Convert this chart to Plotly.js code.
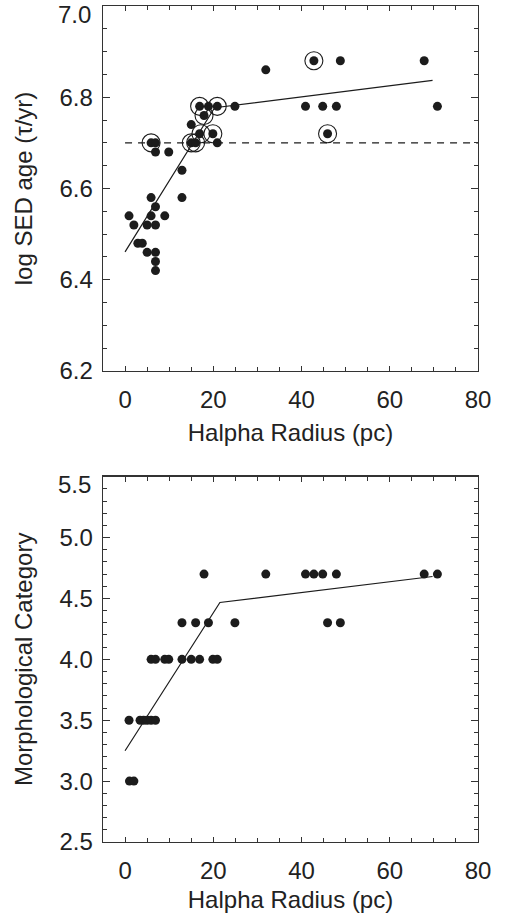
<!DOCTYPE html>
<html>
<head>
<meta charset="utf-8">
<script src="https://cdn.plot.ly/plotly-3.0.1.min.js"></script>
<style>html,body{margin:0;padding:0;background:#fff;}#chart{width:507px;height:913px;}</style>
</head>
<body>
<div id="chart"></div>
<script>
// ---- Top panel: log SED age vs Halpha radius ----
var ageX = [0.9, 2.0, 2.9, 3.9, 5.0, 5.0, 5.9, 5.9, 6.9, 6.9, 6.9, 6.9, 6.9, 9.0, 5.9, 6.9, 6.9, 9.9, 12.9, 12.9, 15.0, 15.0, 16.0, 16.9, 16.9, 17.9, 18.9, 19.9, 20.9, 20.9, 24.9, 31.9, 40.9, 42.8, 44.8, 45.9, 47.9, 48.8, 67.8, 70.8];
var ageY = [6.54, 6.52, 6.48, 6.48, 6.52, 6.46, 6.58, 6.54, 6.56, 6.52, 6.46, 6.44, 6.42, 6.54, 6.70, 6.70, 6.68, 6.68, 6.64, 6.58, 6.74, 6.70, 6.70, 6.78, 6.72, 6.76, 6.78, 6.72, 6.78, 6.70, 6.78, 6.86, 6.78, 6.88, 6.78, 6.72, 6.78, 6.88, 6.88, 6.78];
var circX = [5.9, 15.0, 16.0, 16.9, 17.9, 20.9, 17.2, 19.9, 42.8, 45.9];
var circY = [6.70, 6.70, 6.70, 6.78, 6.76, 6.78, 6.72, 6.72, 6.88, 6.72];
var ageFitX = [0.0, 20.3, 69.7];
var ageFitY = [6.461, 6.777, 6.837];
var refX = [0, 80];
var refY = [6.70, 6.70];
var ageTicks = [6.2, 6.4, 6.6, 6.8, 7.0];

// ---- Bottom panel: morphological category vs Halpha radius ----
var morphX = [1.0, 2.0,
              0.9, 3.4, 4.2, 5.0, 5.9, 6.9,
              5.9, 6.9, 9.0, 9.9, 12.9, 15.0, 16.9, 19.9, 20.9,
              12.9, 16.0, 18.9, 24.9, 45.9, 48.8,
              17.9, 31.9, 40.9, 42.8, 44.8, 47.9, 67.8, 70.8];
var morphY = [3.0, 3.0,
              3.5, 3.5, 3.5, 3.5, 3.5, 3.5,
              4.0, 4.0, 4.0, 4.0, 4.0, 4.0, 4.0, 4.0, 4.0,
              4.3, 4.3, 4.3, 4.3, 4.3, 4.3,
              4.7, 4.7, 4.7, 4.7, 4.7, 4.7, 4.7, 4.7];
var morphFitX = [0.0, 21.5, 69.7];
var morphFitY = [3.249, 4.467, 4.680];
var morphTicks = [2.5, 3.0, 3.5, 4.0, 4.5, 5.0, 5.5];

var xTickVals = [0, 20, 40, 60, 80];
var xTitle = 'Halpha Radius (pc)';
var yTitleTop = 'log SED age (τ/yr)';
var yTitleBottom = 'Morphological Category';

var ink = '#1c1c1c';
var font = {family: 'Liberation Sans, Arial, sans-serif', size: 24, color: '#222'};

var traces = [
  {x: refX, y: refY, xaxis: 'x', yaxis: 'y', mode: 'lines', line: {color: ink, width: 1.2, dash: '7px,6px'}, hoverinfo: 'skip'},
  {x: ageFitX, y: ageFitY, xaxis: 'x', yaxis: 'y', mode: 'lines', line: {color: ink, width: 1.2}},
  {x: ageX, y: ageY, xaxis: 'x', yaxis: 'y', mode: 'markers', marker: {color: ink, size: 9, line: {width: 0}}},
  {x: circX, y: circY, xaxis: 'x', yaxis: 'y', mode: 'markers', marker: {symbol: 'circle-open', color: ink, size: 18, line: {color: ink, width: 1.1}}},
  {x: morphFitX, y: morphFitY, xaxis: 'x2', yaxis: 'y2', mode: 'lines', line: {color: ink, width: 1.2}},
  {x: morphX, y: morphY, xaxis: 'x2', yaxis: 'y2', mode: 'markers', marker: {color: ink, size: 9, line: {width: 0}}}
];

function fmt(v) { return v.toFixed(1); }

function xAxis(anchor) {
  return {
    anchor: anchor, domain: [0, 1], range: [-5, 80],
    tickmode: 'array', tickvals: xTickVals, ticktext: xTickVals.map(String),
    ticks: 'inside', ticklen: 5, tickwidth: 1, tickcolor: '#333',
    minor: {dtick: 5, tick0: 0, ticks: 'inside', ticklen: 4, tickwidth: 1, tickcolor: '#333'},
    showline: true, linecolor: '#333', linewidth: 1.3, mirror: 'ticks',
    showgrid: false, zeroline: false,
    tickfont: font, ticklabelstandoff: 7,
    title: {text: xTitle, font: font, standoff: 12}
  };
}
function yAxis(anchor, domain, range, ticks, minorDtick) {
  // the top-most label is drawn as an annotation nudged inside the frame (as in the reference)
  var text = ticks.map(function (v, i) { return i === ticks.length - 1 ? '' : fmt(v); });
  return {
    anchor: anchor, domain: domain, range: range,
    tickmode: 'array', tickvals: ticks, ticktext: text,
    ticks: 'inside', ticklen: 7, tickwidth: 1, tickcolor: '#333',
    minor: {dtick: minorDtick, tick0: range[0], ticks: 'inside', ticklen: 4, tickwidth: 1, tickcolor: '#333'},
    showline: true, linecolor: '#333', linewidth: 1.3, mirror: 'ticks',
    showgrid: false, zeroline: false,
    tickfont: font, ticklabelstandoff: 4,
    title: {font: font, standoff: 20}
  };
}

var yTop = yAxis('x', [0.5634, 1], [6.2, 7.0], ageTicks, 0.05);
yTop.title.text = yTitleTop;
var yBot = yAxis('x2', [0, 0.437], [2.5, 5.5], morphTicks, 0.1);
yBot.title.text = yTitleBottom;

function topLabel(yref, val) {
  return {
    xref: 'paper', x: 0, xanchor: 'right', xshift: -10,
    yref: yref, y: val, yanchor: 'middle', yshift: -8,
    text: fmt(val), showarrow: false, font: font
  };
}

var layout = {
  width: 507, height: 913,
  margin: {l: 103, r: 29, t: 6, b: 71},
  paper_bgcolor: '#fff', plot_bgcolor: '#fff',
  showlegend: false,
  font: font,
  xaxis: xAxis('y'),
  yaxis: yTop,
  xaxis2: xAxis('y2'),
  yaxis2: yBot,
  annotations: [
    topLabel('y', ageTicks[ageTicks.length - 1]),
    topLabel('y2', morphTicks[morphTicks.length - 1])
  ]
};

Plotly.newPlot('chart', traces, layout, {displayModeBar: false, staticPlot: true});
</script>
</body>
</html>
